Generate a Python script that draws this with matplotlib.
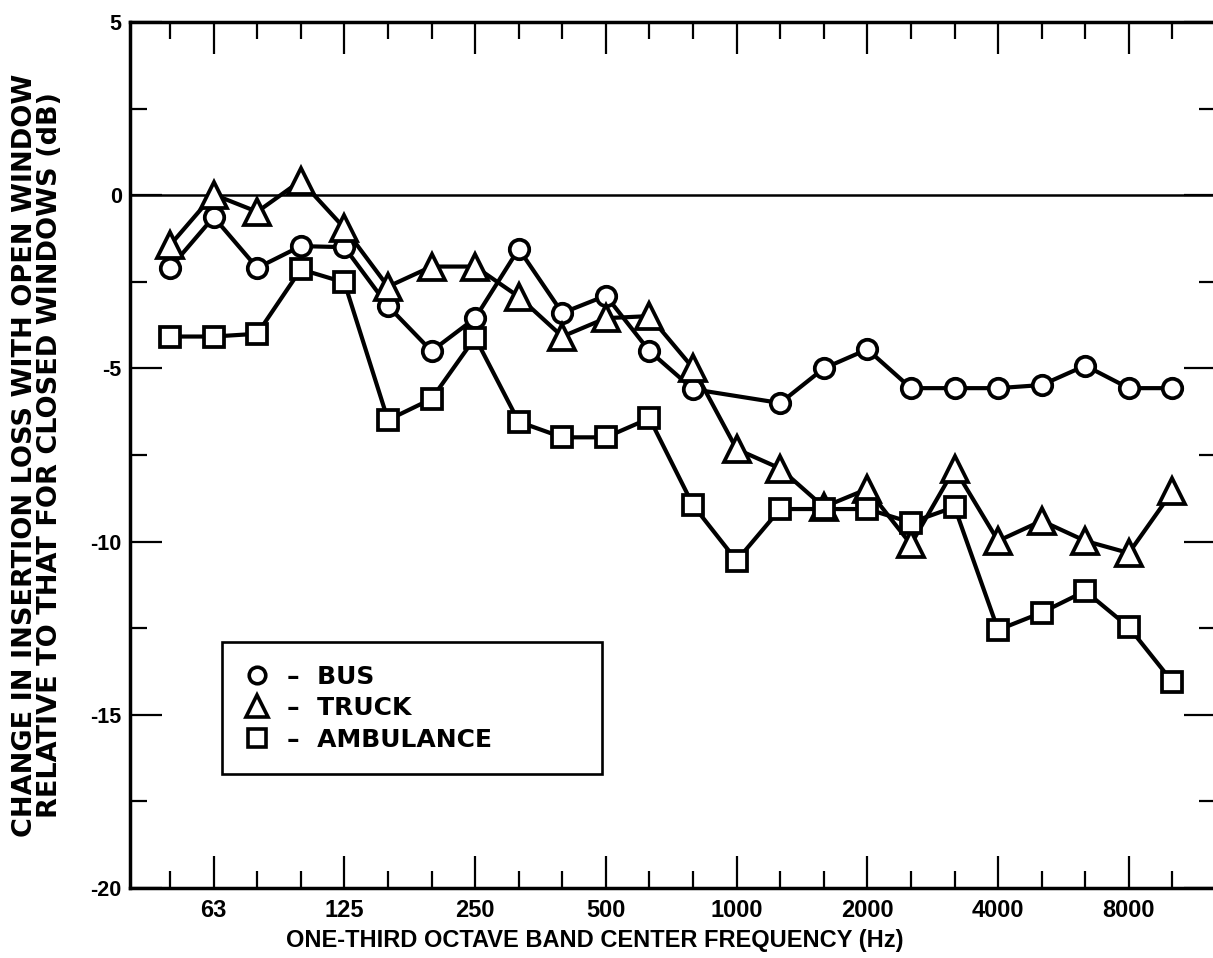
import numpy as np
import matplotlib.pyplot as plt
from matplotlib.lines import Line2D

# one-third octave band centres, Hz
bands = [50, 63, 80, 100, 125, 160, 200, 250, 315, 400, 500, 630,
         800, 1000, 1250, 1600, 2000, 2500, 3150, 4000, 5000, 6300, 8000, 10000]
labelled = [63, 125, 250, 500, 1000, 2000, 4000, 8000]

# change in insertion loss, dB (nan = no reading)
bus = [-2.1, -0.63, -2.1, -1.47, -1.5, -3.2, -4.5, -3.55, -1.55, -3.4, -2.9, -4.5,
       -5.6, np.nan, -6.0, -5.0, -4.45, -5.57, -5.57, -5.57, -5.48, -4.92, -5.57, -5.57]
truck = [-1.44, 0.02, -0.48, 0.42, -0.95, -2.64, -2.06, -2.06, -2.93, -4.08, -3.55, -3.49,
         -4.99, -7.33, -7.89, -9.0, -8.48, -10.08, -7.89, -9.98, -9.4, -9.98, -10.33, -8.55]
ambulance = [-4.08, -4.08, -4.0, -2.14, -2.52, -6.49, -5.88, -4.11, -6.54, -6.99, -6.99, -6.44,
             -8.95, -10.55, -9.06, -9.06, -9.06, -9.45, -9.0, -12.55, -12.05, -11.43, -12.47, -14.05]

series = [(bus, 'o', 14, 'BUS'), (truck, '^', 19, 'TRUCK'), (ambulance, 's', 15, 'AMBULANCE')]

plt.rcParams['font.family'] = ['Liberation Sans', 'DejaVu Sans']
plt.rcParams['font.weight'] = 'bold'

fig = plt.figure(figsize=(12.13, 9.58), dpi=100)
ax = fig.add_axes([130/1213, 70/958, 1086/1213, 866/958])

idx = np.arange(len(bands))
for vals, mk, ms, name in series:
    v = np.array(vals, dtype=float)
    ok = ~np.isnan(v)
    ax.plot(idx[ok], v[ok], color='black', lw=3.0, marker=mk, ms=ms,
            mfc='white', mec='black', mew=2.7, zorder=3)

ax.axhline(0, color='black', lw=1.8, zorder=1)

ax.set_xlim(-0.92, 24.0)
ax.set_ylim(-20, 5)

major_x = [bands.index(b) for b in labelled]
ax.set_xticks(major_x)
ax.set_xticklabels([str(b) for b in labelled], fontsize=17, fontweight='bold')
ax.set_xticks([i for i in idx if i not in major_x], minor=True)
ax.set_yticks([5, 0, -5, -10, -15, -20])
ax.set_yticklabels(['5', '0', '-5', '-10', '-15', '-20'], fontsize=15.5, fontweight='bold')
ax.set_yticks(np.arange(-17.5, 5, 5), minor=True)

ax.tick_params(which='both', direction='in', top=True, right=True, width=1.6, color='black')
ax.tick_params(which='major', length=23)
ax.tick_params(which='minor', length=12)
ax.tick_params(axis='x', which='major', pad=8)
ax.tick_params(axis='y', which='major', pad=6)

for s in ax.spines.values():
    s.set_linewidth(2.5)

ax.set_xlabel('ONE-THIRD OCTAVE BAND CENTER FREQUENCY (Hz)', fontsize=17, fontweight='bold')
ax.xaxis.set_label_coords((595 - 130) / 1086, -0.047)
ax.set_ylabel('CHANGE IN INSERTION LOSS WITH OPEN WINDOW\nRELATIVE TO THAT FOR CLOSED WINDOWS (dB)',
              fontsize=19.5, fontweight='bold', family='DejaVu Sans', linespacing=0.95,
              labelpad=20)

handles = [Line2D([], [], ls='none', marker=mk, ms=ms * 0.85, mfc='white', mec='black', mew=2.6)
           for _, mk, ms, _ in series]
labels = ['–  ' + name for *_, name in series]
leg = ax.legend(handles, labels, loc='lower left', bbox_to_anchor=(0.0847, 0.1316, 0.35, 0.155),
                mode='expand', borderaxespad=0, frameon=True, fancybox=False, edgecolor='black',
                framealpha=1, borderpad=0.9, labelspacing=0.3, handletextpad=0.7, handlelength=1.0,
                prop={'weight': 'bold', 'size': 18, 'family': 'DejaVu Sans'})
leg.get_frame().set_linewidth(1.9)

fig.savefig('out.png', dpi=100)
